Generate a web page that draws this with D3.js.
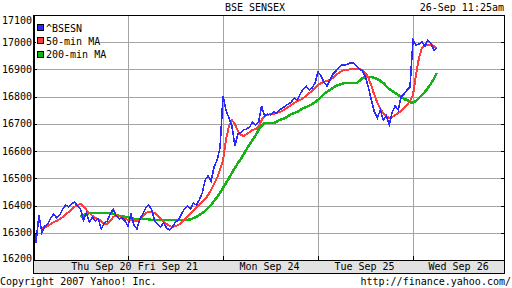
<!DOCTYPE html>
<html>
<head>
<meta charset="utf-8">
<script src="https://cdn.jsdelivr.net/npm/d3@7/dist/d3.min.js"></script>
<style>
body { margin: 0; background: #fff; }
text { font-family: "DejaVu Sans Mono", monospace; font-size: 10px; fill: #000; }
</style>
</head>
<body>
<svg width="512" height="288"></svg>
<script>
// x axis: one unit = one trading session
var dayLabels = ["Thu Sep 20", "Fri Sep 21", "Mon Sep 24", "Tue Sep 25", "Wed Sep 26"];
var labelAt = [0.72, 1.42, 2.49, 3.49, 4.48];
var yTicks = [16200, 16300, 16400, 16500, 16600, 16700, 16800, 16900, 17000, 17100];
var samplesPerDay = 32;

// ^BSESN, sampled ~every 10 minutes
var bseThu = [16340, 16262, 16365, 16300, 16325, 16332, 16354, 16369, 16354, 16365, 16387, 16402, 16395, 16406, 16413, 16398,
              16387, 16347, 16373, 16340, 16358, 16343, 16351, 16314, 16336, 16343, 16369, 16387, 16362, 16351, 16354, 16343];
var bseFri = [16325, 16369, 16329, 16314, 16351, 16369, 16391, 16402, 16384, 16343, 16332, 16321, 16336, 16318, 16310, 16321,
              16340, 16347, 16369, 16387, 16398, 16387, 16409, 16402, 16420, 16446, 16494, 16509, 16490, 16542, 16567, 16611];
var bseMon = [16802, 16751, 16722, 16692, 16619, 16663, 16667, 16678, 16681, 16689, 16707, 16696, 16707, 16766, 16729, 16736,
              16733, 16744, 16740, 16751, 16758, 16766, 16773, 16780, 16795, 16788, 16810, 16828, 16839, 16825, 16832, 16850];
var bseTue = [16891, 16876, 16854, 16839, 16861, 16883, 16894, 16905, 16916, 16916, 16920, 16924, 16924, 16913, 16902, 16894,
              16872, 16832, 16788, 16744, 16722, 16751, 16714, 16729, 16696, 16744, 16766, 16751, 16799, 16810, 16825, 16836];
var bseWed = [17008, 16990, 16993, 17001, 16986, 17008, 16997, 16971, 16979];

// 50-min moving average
var ma50Thu = [null, null, null, 16318, 16321, 16325, 16332, 16340, 16343, 16351, 16358, 16369, 16376, 16387, 16395, 16402,
               16406, 16398, 16384, 16373, 16362, 16354, 16351, 16343, 16332, 16332, 16343, 16358, 16365, 16362, 16354, 16351];
var ma50Fri = [16347, 16347, 16343, 16343, 16351, 16362, 16373, 16376, 16376, 16373, 16362, 16351, 16340, 16332, 16325, 16321,
               16325, 16329, 16336, 16347, 16358, 16369, 16380, 16391, 16402, 16413, 16424, 16439, 16457, 16479, 16501, 16531];
var ma50Mon = [16567, 16641, 16692, 16714, 16700, 16674, 16659, 16656, 16663, 16670, 16678, 16681, 16689, 16714, 16729, 16733,
               16736, 16736, 16740, 16744, 16747, 16755, 16762, 16769, 16777, 16784, 16788, 16795, 16802, 16813, 16821, 16832];
var ma50Tue = [16843, 16850, 16854, 16858, 16861, 16869, 16880, 16887, 16894, 16898, 16898, 16902, 16902, 16902, 16902, 16898,
               16887, 16869, 16839, 16806, 16777, 16755, 16740, 16729, 16722, 16725, 16733, 16740, 16747, 16758, 16769, 16784];
var ma50Wed = [16806, 16880, 16942, 16979, 16990, 16990, 16990, 16986, 16979];

// 200-min moving average
var ma200Thu = [null, null, null, null, null, null, null, null, null, null, null, null, null, null, null, null,
                16358, 16365, 16369, 16373, 16373, 16373, 16373, 16373, 16373, 16373, 16373, 16369, 16365, 16362, 16362, 16358];
var ma200Fri = [16358, 16354, 16351, 16351, 16351, 16351, 16351, 16349, 16347, 16347, 16347, 16347, 16347, 16347, 16347, 16347,
                16347, 16347, 16347, 16347, 16347, 16349, 16354, 16358, 16365, 16373, 16380, 16391, 16402, 16417, 16431, 16446];
var ma200Mon = [16464, 16483, 16501, 16520, 16538, 16556, 16571, 16589, 16608, 16626, 16641, 16659, 16678, 16692, 16703, 16703,
                16703, 16703, 16707, 16714, 16718, 16722, 16729, 16736, 16740, 16744, 16751, 16758, 16762, 16766, 16773, 16780];
var ma200Tue = [16788, 16799, 16810, 16817, 16825, 16832, 16839, 16843, 16847, 16850, 16850, 16850, 16850, 16850, 16858, 16869,
                16872, 16872, 16872, 16869, 16865, 16858, 16850, 16839, 16828, 16821, 16813, 16806, 16799, 16791, 16788, 16780];
var ma200Wed = [16777, 16784, 16795, 16806, 16817, 16832, 16847, 16865, 16887];

function toPoints(days) {
  var out = [];
  days.forEach(function(arr, d) {
    arr.forEach(function(v, i) { out.push({t: d + i / samplesPerDay, v: v}); });
  });
  return out;
}

var svg = d3.select("svg"),
    plotL = 33, plotR = 504, plotT = 15, plotB = 260;

var x = d3.scaleLinear().domain([0, 5]).range([plotL, plotL + 95 * 5]);
var y = d3.scaleLinear().domain([16200, 17100]).range([plotB, plotT]);

svg.append("defs").append("clipPath").attr("id", "plot")
  .append("rect").attr("x", plotL).attr("y", plotT).attr("width", plotR - plotL).attr("height", plotB - plotT);

// grid
var grid = svg.append("g").attr("stroke", "#a4a4a4").attr("shape-rendering", "crispEdges");
grid.selectAll("line.h")
  .data(yTicks.slice(1, -1))
  .enter().append("line")
    .attr("x1", plotL).attr("x2", plotR)
    .attr("y1", function(d) { return Math.round(y(d)) + 0.5; })
    .attr("y2", function(d) { return Math.round(y(d)) + 0.5; });
grid.selectAll("line.v")
  .data([1, 2, 3, 4])
  .enter().append("line")
    .attr("x1", function(d) { return Math.round(x(d)) + 0.5; })
    .attr("x2", function(d) { return Math.round(x(d)) + 0.5; })
    .attr("y1", plotT).attr("y2", plotB);

// series
var line = d3.line()
  .defined(function(d) { return d.v !== null; })
  .x(function(d) { return x(d.t); })
  .y(function(d) { return y(d.v); });

var plot = svg.append("g").attr("clip-path", "url(#plot)").attr("shape-rendering", "crispEdges");

plot.append("path")
  .datum(toPoints([ma200Thu, ma200Fri, ma200Mon, ma200Tue, ma200Wed]))
  .attr("fill", "none").attr("stroke", "#14b414").attr("stroke-width", 2.5)
  .attr("d", line);
plot.append("path")
  .datum(toPoints([ma50Thu, ma50Fri, ma50Mon, ma50Tue, ma50Wed]))
  .attr("fill", "none").attr("stroke", "#ff3c3c").attr("stroke-width", 2)
  .attr("d", line);
plot.append("path")
  .datum(toPoints([bseThu, bseFri, bseMon, bseTue, bseWed]))
  .attr("fill", "none").attr("stroke", "#2828ff").attr("stroke-width", 1.6)
  .attr("d", line);

// frame
var frame = svg.append("g").attr("shape-rendering", "crispEdges");
frame.append("line").attr("x1", plotL).attr("x2", plotR + 1).attr("y1", plotT + 0.5).attr("y2", plotT + 0.5).attr("stroke", "#000");
frame.append("line").attr("x1", plotR + 0.5).attr("x2", plotR + 0.5).attr("y1", plotT).attr("y2", plotB).attr("stroke", "#000");
frame.append("rect").attr("x", plotL).attr("y", plotT).attr("width", 2).attr("height", plotB - plotT).attr("fill", "#000");

// y ticks + labels
frame.selectAll("line.yt")
  .data(yTicks)
  .enter().append("line")
    .attr("x1", plotL).attr("x2", plotL + 4)
    .attr("y1", function(d) { return Math.round(y(d)) + 0.5; })
    .attr("y2", function(d) { return Math.round(y(d)) + 0.5; })
    .attr("stroke", "#000");
frame.selectAll("line.yr")
  .data(yTicks)
  .enter().append("line")
    .attr("x1", plotR - 3).attr("x2", plotR)
    .attr("y1", function(d) { return Math.round(y(d)) + 0.5; })
    .attr("y2", function(d) { return Math.round(y(d)) + 0.5; })
    .attr("stroke", "#000");
svg.append("g").selectAll("text")
  .data(yTicks)
  .enter().append("text")
    .attr("x", plotL - 1)
    .attr("y", function(d) { return Math.min(Math.max(y(d), plotT + 5), plotB - 2); })
    .attr("dy", "0.35em")
    .attr("text-anchor", "end")
    .text(function(d) { return d; });

// x band
svg.append("rect")
  .attr("x", plotL + 0.5).attr("y", plotB + 0.5)
  .attr("width", plotR - plotL).attr("height", 13)
  .attr("fill", "#e2e2e2").attr("stroke", "#000")
  .attr("shape-rendering", "crispEdges");
frame.selectAll("line.xt")
  .data([1, 2, 3, 4])
  .enter().append("line")
    .attr("x1", function(d) { return Math.round(x(d)) + 0.5; })
    .attr("x2", function(d) { return Math.round(x(d)) + 0.5; })
    .attr("y1", plotB - 4).attr("y2", plotB)
    .attr("stroke", "#000");
svg.append("g").selectAll("text")
  .data(dayLabels)
  .enter().append("text")
    .attr("x", function(d, i) { return x(labelAt[i]); })
    .attr("y", plotB + 10)
    .attr("text-anchor", "middle")
    .text(function(d) { return d; });

// legend
var legendItems = [
  {name: "^BSESN", color: "#2828ff"},
  {name: "50-min MA", color: "#ff3c3c"},
  {name: "200-min MA", color: "#14b414"}
];
var legend = svg.append("g").selectAll("g")
  .data(legendItems)
  .enter().append("g")
    .attr("transform", function(d, i) { return "translate(37," + (24 + i * 13.3) + ")"; });
legend.append("rect")
  .attr("x", -1).attr("y", -1)
  .attr("width", function(d) { return 10 + d.name.length * 6.02; }).attr("height", 10)
  .attr("fill", "#fff");
legend.append("rect")
  .attr("x", 0.5).attr("y", 0.5).attr("width", 6).attr("height", 6)
  .attr("fill", function(d) { return d.color; }).attr("stroke", "#000")
  .attr("shape-rendering", "crispEdges");
legend.append("text")
  .attr("x", 9).attr("y", 7.5)
  .text(function(d) { return d.name; });

// titles
svg.append("text").attr("x", 255).attr("y", 11).attr("text-anchor", "middle").text("BSE SENSEX");
svg.append("text").attr("x", 504).attr("y", 11).attr("text-anchor", "end").text("26-Sep 11:25am");
svg.append("text").attr("x", 0).attr("y", 285).text("Copyright 2007 Yahoo! Inc.");
svg.append("text").attr("x", 511).attr("y", 285).attr("text-anchor", "end").text("http://finance.yahoo.com/");
</script>
</body>
</html>
